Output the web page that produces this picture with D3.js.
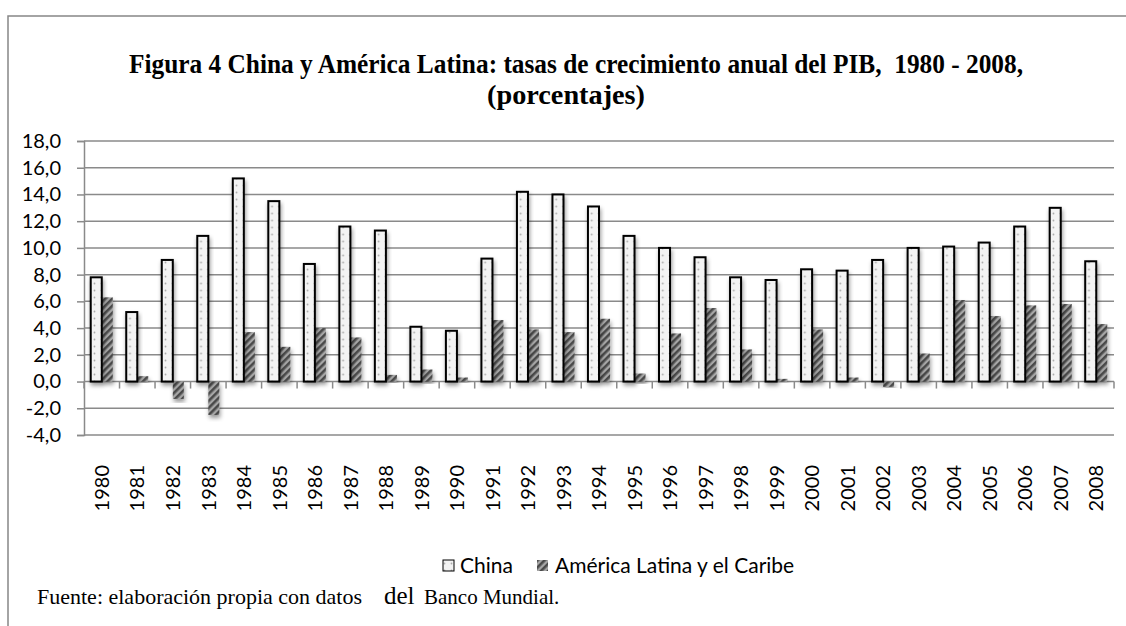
<!DOCTYPE html>
<html>
<head>
<meta charset="utf-8">
<script src="https://cdn.jsdelivr.net/npm/d3@7"></script>
<style>
  body { margin: 0; background: #fff; }
  svg { display: block; }
  text { white-space: pre; }
  .ytick text, .year { font-family: Lato, "Open Sans", sans-serif; fill: #000; }
</style>
</head>
<body>
<div id="chart"></div>
<script>
// GDP growth data
const years = ['1980','1981','1982','1983','1984','1985','1986','1987','1988','1989','1990','1991','1992','1993','1994',
               '1995','1996','1997','1998','1999','2000','2001','2002','2003','2004','2005','2006','2007','2008'];
const china = [7.8, 5.2, 9.1, 10.9, 15.2, 13.5, 8.8, 11.6, 11.3, 4.1, 3.8, 9.2, 14.2, 14.0, 13.1,
               10.9, 10.0, 9.3, 7.8, 7.6, 8.4, 8.3, 9.1, 10.0, 10.1, 10.4, 11.6, 13.0, 9.0];
const latam = [6.3, 0.4, -1.3, -2.5, 3.7, 2.6, 4.0, 3.3, 0.5, 0.9, 0.3, 4.6, 3.9, 3.7, 4.7,
               0.6, 3.6, 5.5, 2.4, 0.2, 3.9, 0.3, -0.4, 2.1, 6.1, 4.9, 5.7, 5.8, 4.3];
const yTicks = [-4, -2, 0, 2, 4, 6, 8, 10, 12, 14, 16, 18];
const seriesNames = ['China', 'América Latina y el Caribe'];

const width = 1126, height = 626;
const plotLeft = 84, plotRight = 1114, plotTop = 141, plotBottom = 435;

const svg = d3.select('#chart').append('svg')
    .attr('width', width)
    .attr('height', height);

// patterns + shadow
const defs = svg.append('defs');
const dots = defs.append('pattern')
    .attr('id', 'dots').attr('patternUnits', 'userSpaceOnUse')
    .attr('width', 7).attr('height', 7);
dots.append('rect').attr('width', 7).attr('height', 7).attr('fill', '#f3f3f3');
dots.append('circle').attr('cx', 3.5).attr('cy', 3.5).attr('r', 0.9).attr('fill', '#aaa');

const hatch = defs.append('pattern')
    .attr('id', 'hatch').attr('patternUnits', 'userSpaceOnUse')
    .attr('width', 5).attr('height', 5)
    .attr('patternTransform', 'rotate(45)');
hatch.append('rect').attr('width', 5).attr('height', 5).attr('fill', '#a6a6a6');
hatch.append('rect').attr('width', 2.6).attr('height', 5).attr('fill', '#4a4a4a');

const shadow = defs.append('filter').attr('id', 'shadow')
    .attr('x', '-50%').attr('y', '-20%').attr('width', '200%').attr('height', '140%');
shadow.append('feDropShadow')
    .attr('dx', 1).attr('dy', 3).attr('stdDeviation', 2)
    .attr('flood-color', '#000').attr('flood-opacity', 0.4);

// frame
svg.append('path')
    .attr('d', `M8,${height} V16 H${width}`)
    .attr('fill', 'none').attr('stroke', '#878787').attr('stroke-width', 1.5);

// title
const title = svg.append('text')
    .attr('font-family', '"Liberation Serif", "Times New Roman", serif')
    .attr('font-weight', 'bold')
    .attr('font-size', 27);
title.append('tspan')
    .attr('x', 129).attr('y', 73)
    .attr('textLength', 894).attr('lengthAdjust', 'spacingAndGlyphs')
    .text('Figura 4 China y América Latina: tasas de crecimiento anual del PIB,  1980 - 2008,');
title.append('tspan')
    .attr('x', 487).attr('y', 104)
    .attr('textLength', 158).attr('lengthAdjust', 'spacingAndGlyphs')
    .text('(porcentajes)');

const x0 = d3.scaleBand().domain(years).range([plotLeft, plotRight]);
const x1 = d3.scaleBand().domain(['china', 'latam'])
    .range([0, x0.bandwidth()]).paddingOuter(0.61);
const y = d3.scaleLinear().domain([-4, 18]).range([plotBottom, plotTop]);

// gridlines
svg.append('g')
    .selectAll('line')
    .data(yTicks)
    .join('line')
    .attr('x1', plotLeft).attr('x2', plotRight)
    .attr('y1', d => y(d)).attr('y2', d => y(d))
    .attr('stroke', '#8a8a8a').attr('stroke-width', 1.5);

// y axis
const yAxis = svg.append('g')
    .attr('class', 'ytick')
    .attr('transform', `translate(${plotLeft},0)`)
    .call(d3.axisLeft(y).tickValues(yTicks).tickSize(7).tickPadding(16)
        .tickFormat(d => d.toFixed(1).replace('.', ',')));
yAxis.selectAll('text').attr('font-size', 20);
yAxis.select('.domain').attr('stroke', '#8a8a8a').attr('stroke-width', 1.5);
yAxis.selectAll('.tick line').attr('stroke', '#8a8a8a').attr('stroke-width', 1.5);

// category tick marks on zero line
svg.append('g')
    .selectAll('line')
    .data(years.map(d => x0(d)).concat([plotRight]))
    .join('line')
    .attr('x1', d => d).attr('x2', d => d)
    .attr('y1', y(0)).attr('y2', y(0) + 7)
    .attr('stroke', '#8a8a8a').attr('stroke-width', 1.5);

// bars
const rows = years.map((yr, i) => ({ year: yr, china: china[i], latam: latam[i] }));
const groups = svg.append('g')
    .selectAll('g')
    .data(rows)
    .join('g')
    .attr('transform', d => `translate(${x0(d.year)},0)`);

groups.append('rect')
    .attr('x', x1('latam'))
    .attr('width', x1.bandwidth())
    .attr('y', d => y(Math.max(0, d.latam)))
    .attr('height', d => Math.abs(y(d.latam) - y(0)))
    .attr('fill', 'url(#hatch)')
    .attr('filter', 'url(#shadow)');

groups.append('rect')
    .attr('x', x1('china'))
    .attr('width', x1.bandwidth())
    .attr('y', d => y(Math.max(0, d.china)))
    .attr('height', d => Math.abs(y(d.china) - y(0)))
    .attr('fill', 'url(#dots)')
    .attr('stroke', '#000').attr('stroke-width', 2)
    .attr('filter', 'url(#shadow)');

// year labels
svg.append('g')
    .selectAll('text')
    .data(years)
    .join('text')
    .attr('class', 'year')
    .attr('font-size', 20)
    .attr('text-anchor', 'end')
    .attr('dy', '0.36em')
    .attr('transform', d => `translate(${x0(d) + x0.bandwidth() / 2},465) rotate(-90)`)
    .text(d => d);

// legend
const legend = svg.append('g').attr('class', 'ytick');
const legendItems = [
    { name: seriesNames[0], fill: 'url(#dots)', stroke: '#000', x: 443, tx: 460 },
    { name: seriesNames[1], fill: 'url(#hatch)', stroke: 'none', x: 537, tx: 555 }
];
legendItems.forEach(it => {
    legend.append('rect')
        .attr('x', it.x).attr('y', 560).attr('width', 11).attr('height', 11)
        .attr('fill', it.fill).attr('stroke', it.stroke).attr('stroke-width', 1);
    legend.append('text')
        .attr('x', it.tx).attr('y', 573)
        .attr('font-size', 21)
        .text(it.name);
});

// source note
const note = svg.append('text')
    .attr('y', 604)
    .attr('font-family', '"Liberation Serif", "Times New Roman", serif')
    .attr('font-size', 22);
note.append('tspan').attr('x', 37).text('Fuente: elaboración propia con datos');
note.append('tspan').attr('x', 384).attr('font-size', 25).text('del');
note.append('tspan').attr('x', 424).attr('font-size', 21).text('Banco Mundial.');
</script>
</body>
</html>
